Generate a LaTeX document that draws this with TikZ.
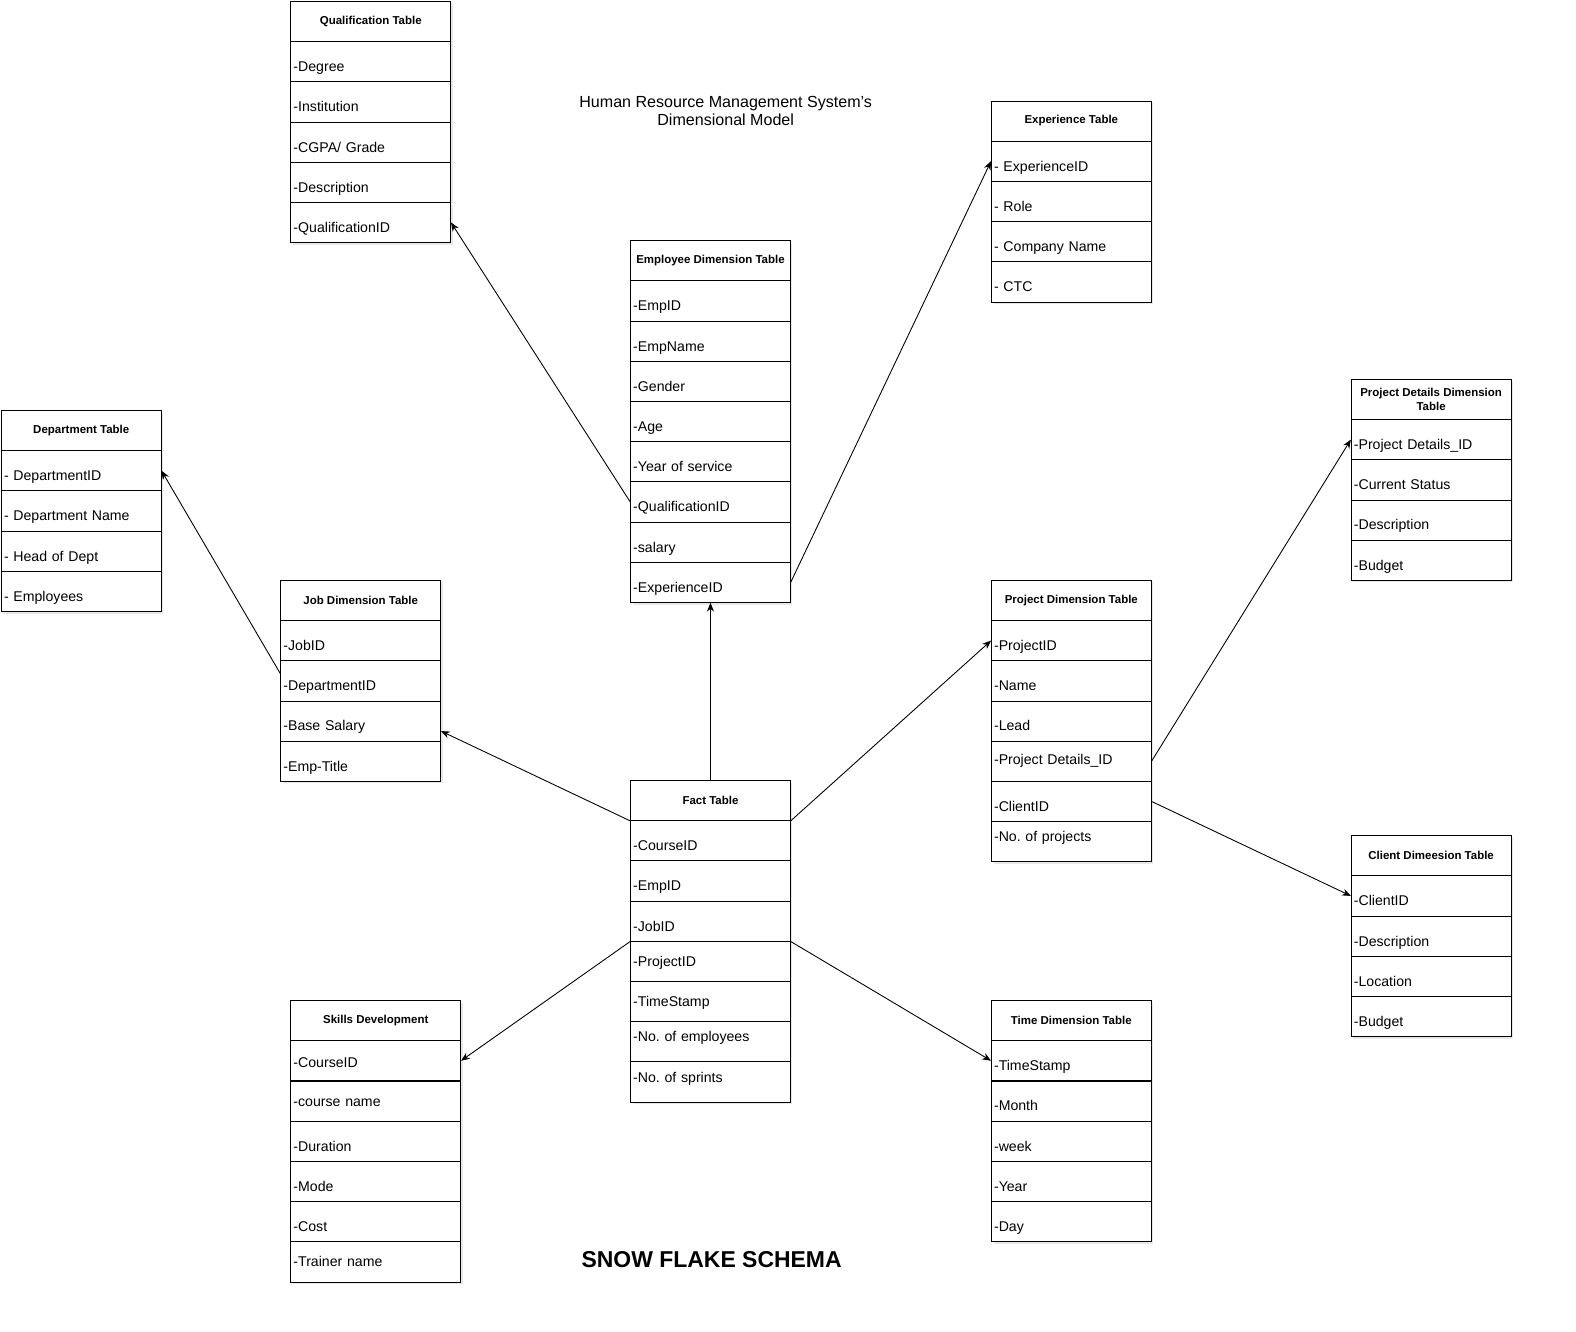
\documentclass[tikz,border=0pt]{standalone}
\usepackage{fontspec}
\setmainfont{Liberation Sans}
\usetikzlibrary{arrows.meta,shadows}
\frenchspacing

\tikzset{
  hdr/.style={draw, fill=white, font=\fontsize{6.5}{7.5}\selectfont\bfseries, align=center, minimum height=0.8cm, inner sep=1pt, anchor=north west, drop shadow={opacity=0.18, shadow xshift=1.2pt, shadow yshift=-1.2pt}},
  row/.style={draw, fill=white, font=\fontsize{8}{9.6}\selectfont, align=left, minimum height=0.8cm, inner xsep=1.5pt, inner ysep=0pt, text height=11.8pt, text depth=0.5pt, anchor=north west, drop shadow={opacity=0.18, shadow xshift=1.2pt, shadow yshift=-1.2pt}},
  link/.style={-{Stealth[length=5pt,width=4pt]}, line width=0.5pt},
}

% #1 name, #2 x, #3 top, #4 width (px), #5 title, #6 rows
\newcommand{\dimtable}[6]{%
  \pgfmathsetlengthmacro\boxw{#4*0.02cm}%
  \pgfmathsetlengthmacro\textw{#4*0.02cm-3pt}%
  \node[hdr, minimum width=\boxw] (#1-h) at (#2,#3) {#5};
  \foreach \r [count=\i] in {#6}
    \node[row, minimum width=\boxw, text width=\textw] (#1-\i) at (#2,#3+40*\i) {\r};
}
% raise a row text a little
\newcommand{\lift}[2]{\raisebox{#1}{#2}}

\begin{document}
\begin{tikzpicture}[x=0.02cm, y=-0.02cm]
\useasboundingbox (0,0) rectangle (1568,1325);

\node[font=\fontsize{9.1}{10.2}\selectfont, align=center] (title) at (722,110) {Human Resource Management System's\\Dimensional Model};
\node[font=\fontsize{13}{15}\selectfont\bfseries] (schema) at (708,1253) {SNOW FLAKE SCHEMA};

\dimtable{qual}{289}{1}{159}{Qualification Table}{-Degree,-Institution,-CGPA/ Grade,-Description,-QualificationID}
\dimtable{exp}{986}{100}{159}{Experience Table}{- ExperienceID,- Role,- Company Name,- CTC}
\dimtable{emp}{627}{239}{159}{Employee Dimension Table}{-EmpID,-EmpName,-Gender,-Age,-Year of service,-QualificationID,-salary,-ExperienceID}
\dimtable{dept}{1}{408}{159}{Department Table}{- DepartmentID,- Department Name,- Head of Dept,- Employees}
\dimtable{pdet}{1344}{377}{159}{Project Details Dimension\\Table}{-Project Details\_ID,-Current Status,-Description,-Budget}
\dimtable{job}{279}{577}{159}{Job Dimension Table}{-JobID,-DepartmentID,-Base Salary,-Emp-Title}
\dimtable{proj}{986}{577}{159}{Project Dimension Table}{-ProjectID,-Name,-Lead,\lift{4pt}{-Project Details\_ID},-ClientID,\lift{5.5pt}{-No. of projects}}
\dimtable{fact}{627}{776}{159}{Fact Table}{-CourseID,-EmpID,-JobID,\lift{2.8pt}{-ProjectID},\lift{2.8pt}{-TimeStamp},\lift{5.5pt}{-No. of employees},\lift{5.3pt}{-No. of sprints}}
\dimtable{client}{1344}{831}{159}{Client Dimeesion Table}{-ClientID,-Description,-Location,-Budget}
\dimtable{skill}{289}{995}{169}{Skills Development}{\lift{1.7pt}{-CourseID},\lift{2.3pt}{-course name},-Duration,-Mode,-Cost,\lift{2.8pt}{-Trainer name}}
\dimtable{time}{986}{995}{159}{Time Dimension Table}{-TimeStamp,-Month,-week,-Year,-Day}

% links between tables
\draw[link] (emp-6.west) -- (qual-5.east);
\draw[link] (emp-8.east) -- (exp-1.west);
\draw[link] (fact-h.north) -- (emp-8.south);
\draw[link] (fact-h.south west) -- ([yshift=-0.2cm]job-3.east);
\draw[link] ([yshift=0.14cm]job-2.west) -- (dept-1.east);
\draw[link] (fact-h.south east) -- (proj-1.west);
\draw[link] (proj-4.east) -- (pdet-1.west);
\draw[link] (proj-5.east) -- (client-1.west);
\draw[link] (fact-3.south west) -- (skill-1.east);
\draw[link] (fact-3.south east) -- (time-1.west);
\end{tikzpicture}
\end{document}
